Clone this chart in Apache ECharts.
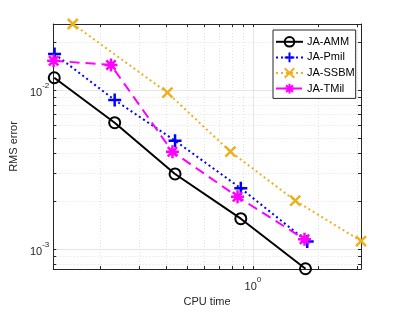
<!DOCTYPE html>
<html><head><meta charset="utf-8">
<script src="https://cdn.jsdelivr.net/npm/echarts@6/dist/echarts.min.js"></script>
<style>html,body{margin:0;padding:0;background:#fff}#c{width:399px;height:315px}</style>
</head><body><div id="c"></div>
<script>
// ---- data ----
const seriesNames = ['JA-AMM', 'JA-Pmil', 'JA-SSBM', 'JA-TMil'];
const amm_x  = [0.1228, 0.2324, 0.4395, 0.880, 1.742];
const amm_y  = [0.01194, 0.006232, 0.002971, 0.001556, 0.000755];
const pmil_x = [0.1232, 0.2324, 0.4395, 0.880, 1.774];
const pmil_y = [0.01683, 0.00865, 0.004805, 0.002415, 0.001119];
const ssbm_x = [0.1494, 0.4057, 0.789, 1.564, 3.13];
const ssbm_y = [0.02596, 0.00962, 0.0041, 0.002018, 0.001127];
const tmil_x = [0.1220, 0.2235, 0.4276, 0.850, 1.724];
const tmil_y = [0.01528, 0.01435, 0.0041, 0.002138, 0.001156];
const xMajorTicks = [1];
const xMinorTicks = [0.2, 0.3, 0.4, 0.5, 0.6, 0.7, 0.8, 0.9, 2, 3];
const yMajorTicks = [0.001, 0.01];
const yMinorTicks = [0.0008, 0.0009, 0.002, 0.003, 0.004, 0.005, 0.006, 0.007, 0.008, 0.009, 0.02];
const xLimits = [0.1215, 3.13];
const yLimits = [0.000752, 0.02596];
const xLabel = 'CPU time';
const yLabel = 'RMS error';

// ---- styling ----
const FONT = '"Liberation Sans", Arial, Helvetica, sans-serif';
const AX = '#262626';
const zip = (a, b) => a.map((v, i) => [v, b[i]]);
const xAll = xMinorTicks.concat(xMajorTicks).sort((a, b) => a - b);
const yAll = yMinorTicks.concat(yMajorTicks).sort((a, b) => a - b);
const powLabel = v => '{b|10}{s|' + Math.round(Math.log10(v)) + '}';
const rich = {
  b: { fontSize: 11, fontFamily: FONT, color: AX, padding: [5, 0, 0, 0] },
  s: { fontSize: 8, fontFamily: FONT, color: AX, verticalAlign: 'top' }
};
const PLUS = 'path://M0,-7L0,7M-7,0L7,0';
const CROSS = 'path://M-7,-7L7,7M-7,7L7,-7';
const STAR = 'path://M0,-7L0,7M-7,0L7,0M-5,-5L5,5M-5,5L5,-5';

function baseX(extra) {
  return Object.assign({ type: 'log', min: xLimits[0], max: xLimits[1], gridIndex: 0,
    axisLine: { show: false }, axisTick: { show: false }, axisLabel: { show: false },
    splitLine: { show: false }, minorTick: { show: false }, minorSplitLine: { show: false } }, extra);
}
function baseY(extra) {
  return Object.assign({ type: 'log', min: yLimits[0], max: yLimits[1], gridIndex: 0,
    axisLine: { show: false }, axisTick: { show: false }, axisLabel: { show: false },
    splitLine: { show: false }, minorTick: { show: false }, minorSplitLine: { show: false } }, extra);
}

const chart = echarts.init(document.getElementById('c'), null, { renderer: 'canvas' });
chart.setOption({
  animation: false,
  backgroundColor: '#fff',
  grid: { left: 51, right: 38, top: 24, bottom: 46, containLabel: false },
  legend: {
    orient: 'vertical', left: 273, top: 30,
    data: seriesNames,
    backgroundColor: '#fff', borderColor: AX, borderWidth: 1,
    padding: [6, 1, 4, 2], itemGap: 4, itemWidth: 27, itemHeight: 12,
    textStyle: { fontSize: 11, fontFamily: FONT, color: '#000', padding: [0, 0, 0, -1] }
  },
  xAxis: [
    baseX({ position: 'bottom', name: xLabel, nameLocation: 'middle', nameGap: 22,
      nameTextStyle: { fontSize: 11, fontFamily: FONT, color: AX },
      axisLine: { show: true, lineStyle: { color: AX, width: 1 } },
      axisTick: { show: true, inside: true, length: 3, customValues: xAll, lineStyle: { color: AX, width: 1 } },
      axisLabel: { show: true, customValues: xMajorTicks, formatter: powLabel, rich: rich, margin: 7 } }),
    baseX({ position: 'bottom', axisTick: { show: false, customValues: xMinorTicks },
      splitLine: { show: true, lineStyle: { color: '#e2e2e2', type: [1, 2], width: 1 } } }),
    baseX({ position: 'bottom', axisTick: { show: false, customValues: xMajorTicks },
      splitLine: { show: true, lineStyle: { color: '#e6e6e6', type: 'solid', width: 1 } } }),
    baseX({ position: 'top',
      axisLine: { show: true, lineStyle: { color: AX, width: 1 } },
      axisTick: { show: true, inside: true, length: 3, customValues: xAll, lineStyle: { color: AX, width: 1 } } })
  ],
  yAxis: [
    baseY({ position: 'left', name: yLabel, nameLocation: 'middle', nameGap: 32,
      nameTextStyle: { fontSize: 11, fontFamily: FONT, color: AX },
      axisLine: { show: true, lineStyle: { color: AX, width: 1 } },
      axisTick: { show: true, inside: true, length: 3, customValues: yAll, lineStyle: { color: AX, width: 1 } },
      axisLabel: { show: true, customValues: yMajorTicks, formatter: powLabel, rich: rich, margin: 4 } }),
    baseY({ position: 'left', axisTick: { show: false, customValues: yMinorTicks },
      splitLine: { show: true, lineStyle: { color: '#e2e2e2', type: [1, 2], width: 1 } } }),
    baseY({ position: 'left', axisTick: { show: false, customValues: yMajorTicks },
      splitLine: { show: true, lineStyle: { color: '#e6e6e6', type: 'solid', width: 1 } } }),
    baseY({ position: 'right',
      axisLine: { show: true, lineStyle: { color: AX, width: 1 } },
      axisTick: { show: true, inside: true, length: 3, customValues: yAll, lineStyle: { color: AX, width: 1 } } })
  ],
  series: [
    { name: seriesNames[0], type: 'line', xAxisIndex: 0, yAxisIndex: 0, data: zip(amm_x, amm_y),
      symbol: 'circle', symbolSize: 11,
      lineStyle: { color: '#000', width: 2, type: 'solid' },
      itemStyle: { color: 'rgba(0,0,0,0)', borderColor: '#000', borderWidth: 2 } },
    { name: seriesNames[1], type: 'line', xAxisIndex: 0, yAxisIndex: 0, data: zip(pmil_x, pmil_y),
      symbol: PLUS, symbolSize: 13,
      lineStyle: { color: '#0000ff', width: 2, type: [2, 3] },
      itemStyle: { color: 'rgba(0,0,0,0)', borderColor: '#0000ff', borderWidth: 2.5 } },
    { name: seriesNames[2], type: 'line', xAxisIndex: 0, yAxisIndex: 0, data: zip(ssbm_x, ssbm_y),
      symbol: CROSS, symbolSize: 10,
      lineStyle: { color: '#edb120', width: 2, type: [2, 3] },
      itemStyle: { color: 'rgba(0,0,0,0)', borderColor: '#edb120', borderWidth: 2.5 } },
    { name: seriesNames[3], type: 'line', xAxisIndex: 0, yAxisIndex: 0, data: zip(tmil_x, tmil_y),
      symbol: STAR, symbolSize: 13,
      lineStyle: { color: '#ff00ff', width: 2, type: [10, 6] },
      itemStyle: { color: 'rgba(0,0,0,0)', borderColor: '#ff00ff', borderWidth: 2.5 } }
  ]
});
</script>
</body></html>
